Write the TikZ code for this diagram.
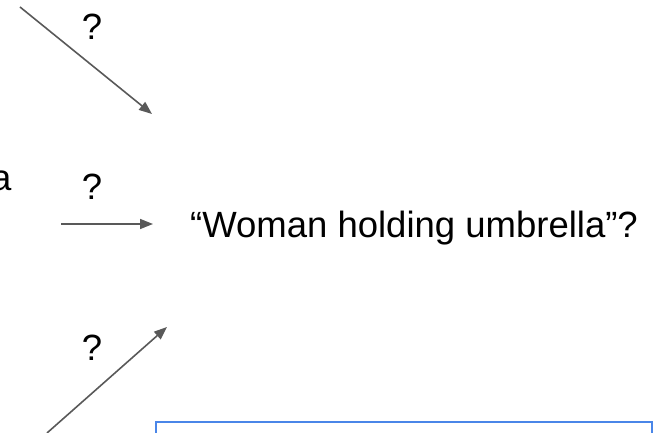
\documentclass[tikz,border=0pt]{standalone}
\usepackage{fontspec}
\setmainfont{Liberation Sans}
\usepackage{tikz}
\usetikzlibrary{arrows.meta,positioning}
\definecolor{arrowgray}{HTML}{595959}
\definecolor{boxblue}{HTML}{4A86E8}
\tikzstyle{arrow}=[draw,arrowgray,line width=1.6pt,-{Triangle[length=13pt,width=10pt]}]
\tikzstyle{label}=[inner sep=0pt, font=\fontsize{36.5}{40}\selectfont]
\tikzstyle{block}=[draw,boxblue,line width=2pt]

\begin{document}
\begin{tikzpicture}[x=1pt,y=-1pt]
  \useasboundingbox (0,0) rectangle (659,433);
  % arrow end points
  \coordinate (t1) at (20,7);
  \coordinate (h1) at (152,114);
  \coordinate (t2) at (61,224);
  \coordinate (h2) at (153,224);
  \coordinate (t3) at (47,433);
  \coordinate (h3) at (167,327);

  \node [label, anchor=base west] (src) at (-9,190) {a};
  \node [label, anchor=base] (q1) at (92,40) {?};
  \node [label, anchor=base] (q2) at (92,200) {?};
  \node [label, anchor=base] (q3) at (92,360) {?};
  \node [label, anchor=base west] (caption) at (190,237) {``Woman holding umbrella''?};

  \draw [arrow] (t1) to (h1);
  \draw [arrow] (t2) to (h2);
  \draw [arrow] (t3) to (h3);

  \draw [block] (156,422) rectangle (652,460);
\end{tikzpicture}
\end{document}
